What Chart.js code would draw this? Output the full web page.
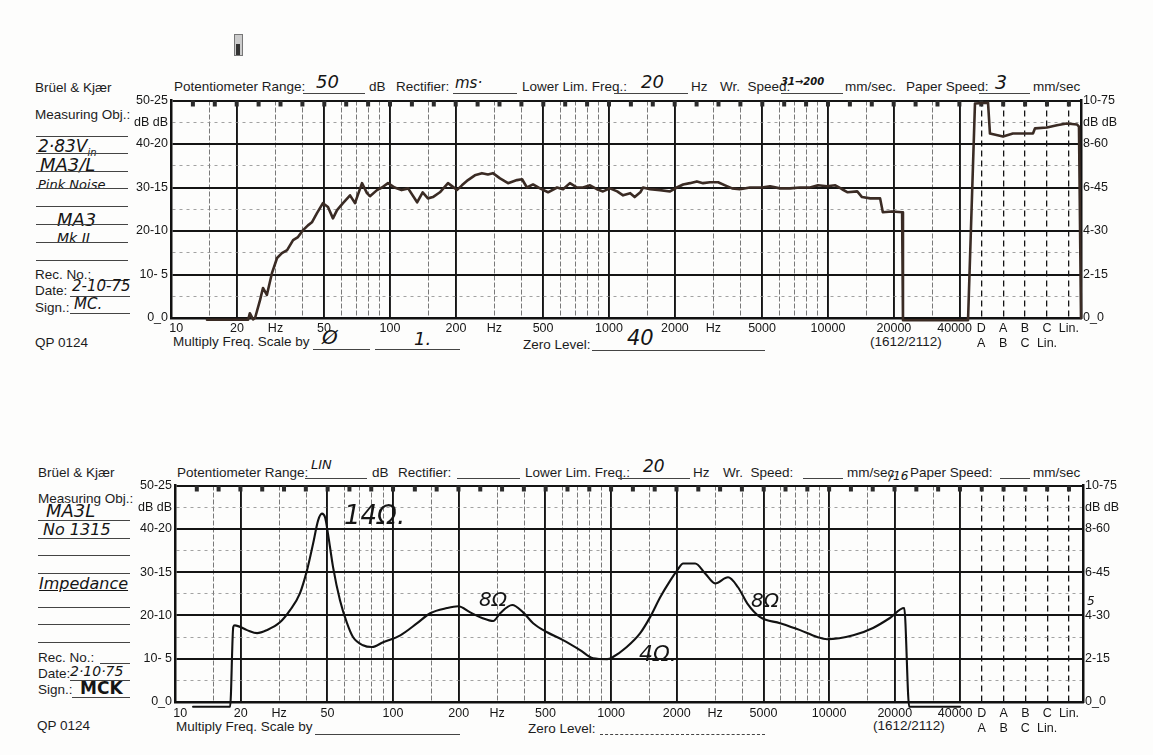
<!DOCTYPE html>
<html>
<head>
<meta charset="utf-8">
<script src="https://cdn.jsdelivr.net/npm/chart.js@4.4.0/dist/chart.umd.min.js"></script>
<style>
  body { margin: 0; background: #fff; }
  #page { position: relative; width: 1153px; height: 755px; overflow: hidden; background: #fdfdfc;
          font-family: "Liberation Sans", Arial, sans-serif; color: #1c1c1c; }
  .t { position: absolute; font-size: 13.5px; line-height: 14px; white-space: nowrap; }
  .h { position: absolute; font-family: "DejaVu Sans", sans-serif; font-style: italic; line-height: 1;
       white-space: nowrap; color: #151515; }
  .u { position: absolute; height: 0; border-top: 1px solid #444; }
  canvas { position: absolute; }
</style>
</head>
<body>
<div id="page">
  <!-- upper sheet: frequency response -->
  <div style="position:absolute;left:234px;top:34px;width:7px;height:20px;border:1px solid #777;background:#ccc"></div>
  <div style="position:absolute;left:236px;top:44px;width:4px;height:11px;background:#333"></div>

  <div class="t" style="left:35px;top:81px">Brüel &amp; Kjær</div>
  <div class="t" style="left:174px;top:80px">Potentiometer Range:</div>
  <div class="u" style="left:303px;top:93px;width:62px"></div>
  <div class="h" style="left:316px;top:73px;font-size:18px">50</div>
  <div class="t" style="left:369px;top:80px">dB</div>
  <div class="t" style="left:396px;top:80px">Rectifier:</div>
  <div class="h" style="left:455px;top:76px;font-size:15px">ms·</div>
  <div class="u" style="left:453px;top:93px;width:64px"></div>
  <div class="t" style="left:522px;top:80px">Lower Lim. Freq.:</div>
  <div class="u" style="left:614px;top:93px;width:74px"></div>
  <div class="h" style="left:641px;top:73px;font-size:18px">20</div>
  <div class="t" style="left:691px;top:80px">Hz</div>
  <div class="t" style="left:720px;top:80px">Wr.&nbsp; Speed:</div>
  <div class="u" style="left:781px;top:93px;width:62px"></div>
  <div class="h" style="left:781px;top:77px;font-size:10px;font-weight:bold">31→200</div>
  <div class="t" style="left:845px;top:80px">mm/sec.</div>
  <div class="t" style="left:906px;top:80px">Paper Speed:</div>
  <div class="u" style="left:979px;top:93px;width:51px"></div>
  <div class="h" style="left:995px;top:73px;font-size:19px">3</div>
  <div class="t" style="left:1033px;top:80px">mm/sec</div>

  <div class="t" style="left:35px;top:108px">Measuring Obj.:</div>
  <div class="u" style="left:36px;top:136px;width:92px"></div>
  <div class="h" style="left:38px;top:138px;font-size:17px">2·83V<sub style="font-size:10px">in</sub></div>
  <div class="u" style="left:36px;top:153px;width:92px"></div>
  <div class="h" style="left:40px;top:156px;font-size:18px">MA3/L</div>
  <div class="u" style="left:36px;top:171px;width:92px"></div>
  <div class="h" style="left:38px;top:178px;font-size:13px">Pink Noise</div>
  <div class="u" style="left:36px;top:188px;width:92px"></div>
  <div class="u" style="left:36px;top:206px;width:92px"></div>
  <div class="h" style="left:57px;top:211px;font-size:18px">MA3</div>
  <div class="u" style="left:36px;top:224px;width:92px"></div>
  <div class="h" style="left:57px;top:231px;font-size:14px">Mk II</div>
  <div class="u" style="left:36px;top:242px;width:92px"></div>
  <div class="u" style="left:36px;top:260px;width:92px"></div>
  <div class="t" style="left:35px;top:268px">Rec. No.:</div>
  <div class="u" style="left:100px;top:280px;width:28px"></div>
  <div class="t" style="left:35px;top:284px">Date:</div>
  <div class="h" style="left:72px;top:279px;font-size:15px">2-10-75</div>
  <div class="u" style="left:70px;top:296px;width:60px"></div>
  <div class="t" style="left:35px;top:301px">Sign.:</div>
  <div class="h" style="left:74px;top:297px;font-size:15px">MC.</div>
  <div class="u" style="left:70px;top:313px;width:60px"></div>
  <div class="t" style="left:35px;top:336px">QP 0124</div>

  <div class="t" style="left:173px;top:335px">Multiply Freq. Scale by</div>
  <div class="u" style="left:313px;top:349px;width:57px"></div>
  <div class="h" style="left:322px;top:327px;font-size:20px">Ø</div>
  <div class="u" style="left:375px;top:349px;width:85px"></div>
  <div class="h" style="left:414px;top:330px;font-size:18px">1.</div>
  <div class="t" style="left:523px;top:338px">Zero Level:</div>
  <div class="u" style="left:592px;top:350px;width:173px"></div>
  <div class="h" style="left:627px;top:328px;font-size:21px">40</div>
  <div class="t" style="left:870px;top:335px">(1612/2112)</div>

  <!-- lower sheet: impedance -->
  <div class="t" style="left:38px;top:466px">Brüel &amp; Kjær</div>
  <div class="t" style="left:177px;top:466px">Potentiometer Range:</div>
  <div class="h" style="left:311px;top:458px;font-size:13px">LIN</div>
  <div class="u" style="left:305px;top:478px;width:62px"></div>
  <div class="t" style="left:372px;top:466px">dB</div>
  <div class="t" style="left:398px;top:466px">Rectifier:</div>
  <div class="u" style="left:457px;top:478px;width:63px"></div>
  <div class="t" style="left:525px;top:466px">Lower Lim. Freq.:</div>
  <div class="u" style="left:618px;top:478px;width:72px"></div>
  <div class="h" style="left:643px;top:458px;font-size:17px">20</div>
  <div class="t" style="left:693px;top:466px">Hz</div>
  <div class="t" style="left:723px;top:466px">Wr.&nbsp; Speed:</div>
  <div class="u" style="left:803px;top:478px;width:40px"></div>
  <div class="t" style="left:847px;top:466px">mm/sec</div>
  <div class="h" style="left:889px;top:470px;font-size:12px">/16</div>
  <div class="t" style="left:910px;top:466px">Paper Speed:</div>
  <div class="u" style="left:1000px;top:478px;width:30px"></div>
  <div class="t" style="left:1033px;top:466px">mm/sec</div>

  <div class="t" style="left:38px;top:492px">Measuring Obj.:</div>
  <div class="h" style="left:46px;top:502px;font-size:18px">MA3L</div>
  <div class="u" style="left:38px;top:520px;width:92px"></div>
  <div class="h" style="left:43px;top:522px;font-size:16px">No 1315</div>
  <div class="u" style="left:38px;top:538px;width:92px"></div>
  <div class="u" style="left:38px;top:555px;width:92px"></div>
  <div class="u" style="left:38px;top:573px;width:92px"></div>
  <div class="h" style="left:39px;top:576px;font-size:16px;text-decoration:underline">Impedance</div>
  <div class="u" style="left:38px;top:607px;width:92px"></div>
  <div class="u" style="left:38px;top:624px;width:92px"></div>
  <div class="u" style="left:38px;top:642px;width:92px"></div>
  <div class="t" style="left:38px;top:651px">Rec. No.:</div>
  <div class="u" style="left:100px;top:663px;width:30px"></div>
  <div class="t" style="left:38px;top:667px">Date:</div>
  <div class="h" style="left:70px;top:664px;font-size:14px">2·10·75</div>
  <div class="u" style="left:70px;top:680px;width:60px"></div>
  <div class="t" style="left:38px;top:683px">Sign.:</div>
  <div class="h" style="left:80px;top:680px;font-size:17px;font-style:normal;font-weight:bold">MCK</div>
  <div class="u" style="left:72px;top:697px;width:58px"></div>
  <div class="t" style="left:37px;top:719px">QP 0124</div>

  <div class="t" style="left:176px;top:720px">Multiply Freq. Scale by</div>
  <div class="u" style="left:315px;top:734px;width:145px"></div>
  <div class="t" style="left:528px;top:722px">Zero Level:</div>
  <div class="u" style="left:600px;top:734px;width:165px;border-top-style:dashed"></div>
  <div class="t" style="left:873px;top:719px">(1612/2112)</div>

  <canvas id="respChart" width="1030" height="266" style="left:100px;top:90px"></canvas>
  <canvas id="impChart" width="1030" height="266" style="left:100px;top:475px"></canvas>

  <div class="h" style="left:344px;top:502px;font-size:26px">14Ω.</div>
  <div class="h" style="left:479px;top:589px;font-size:20px">8Ω</div>
  <div class="h" style="left:639px;top:643px;font-size:22px">4Ω.</div>
  <div class="h" style="left:751px;top:590px;font-size:20px">8Ω</div>
  <div class="h" style="left:1087px;top:595px;font-size:12px">5</div>
</div>

<script>
// grid lines of the recorder paper (Hz) and their printed labels
const xTickHz = [10, 15, 20, 30, 40, 50, 60, 70, 80, 90,
                 100, 150, 200, 300, 400, 500, 600, 700, 800, 900,
                 1000, 1500, 2000, 3000, 4000, 5000, 6000, 7000, 8000, 9000,
                 10000, 15000, 20000, 30000, 40000,
                 50100, 63100, 79400, 100000, 125900];
const xTickText = ['   10', '', '20', 'Hz', '', '50', '', '', '', '',
                   '100', '', '200', 'Hz', '', '500', '', '', '', '',
                   '1000', '', '2000', 'Hz', '', '5000', '', '', '', '',
                   '10000', '', '20000', '', '40000   ',
                   ['D', 'A'], ['A', 'B'], ['B', 'C'], ['C', 'Lin.'], 'Lin.'];
const majorHz = [10, 20, 50, 100, 200, 500, 1000, 2000, 5000, 10000, 20000, 40000];
const weightHz = [50100, 63100, 79400, 100000, 125900];

const yTickDb = [0, 2.5, 5, 7.5, 10, 12.5, 15, 17.5, 20, 22.5, 25, 27.5, 30,
                 32.5, 35, 37.5, 40, 42.5, 45, 47.5, 50];
const yMajorDb = [0, 10, 20, 30, 40, 50];
const yLeftText = ['0_0', '10- 5', '20-10', '30-15', '40-20', '50-25'];
const yRightText = ['0_0', '2-15', '4-30', '6-45', '8-60', '10-75'];
const unitDb = 45;

// pen trace, upper sheet (pink noise response)
const respHz = [14.6, 22.5, 22.9, 23.7, 24.2, 25.5, 26.3, 27.4, 28.9, 30.5,
                32.1, 33.9, 36.1, 38.0, 40.1, 42.2, 44.0, 46.4, 49.4, 52.1,
                54.9, 57.3, 61.0, 65.7, 69.2, 74.5, 78.5, 81.0, 87.2, 91.9,
                97.9, 105, 113, 121, 133, 141, 149, 157, 169, 184,
                198, 202, 213, 227, 244, 263, 280, 295, 318, 346,
                380, 401, 422, 450, 484, 527, 579, 617, 663, 714,
                761, 819, 881, 939, 1010, 1090, 1160, 1250, 1310, 1390,
                1430, 1540, 1710, 1900, 2040, 2180, 2340, 2520, 2690, 2890,
                3150, 3390, 3650, 3960, 4400, 4990, 5440, 6040, 6710, 7450,
                8280, 9000, 9890, 10800, 11600, 12300, 13600, 14300, 15600, 17300,
                17800, 19600, 21800, 22000, 43600, 46900, 53800, 54900, 63000, 69900,
                77700, 86300, 88200, 100000, 111000, 123000, 137000, 140000, 143000];
const respDb = [-0.4, -0.4, 1.1, -0.3, 0, 4.1, 6.9, 5.3, 10.3, 13.8,
                14.9, 15.6, 17.9, 18.6, 20.2, 21.3, 22.0, 24.1, 26.4, 25.5,
                22.9, 24.8, 26.4, 28.2, 26.4, 31.0, 28.7, 28.0, 29.4, 30.0,
                31.0, 30.0, 29.4, 29.8, 26.6, 28.9, 27.5, 27.8, 28.9, 31.0,
                29.8, 29.4, 30.5, 31.7, 32.8, 33.3, 33.0, 33.3, 32.1, 31.0,
                31.7, 31.9, 30.0, 30.7, 29.8, 28.9, 30.0, 29.6, 31.0, 30.0,
                30.0, 30.5, 29.6, 29.1, 29.8, 29.1, 28.2, 28.7, 27.8, 28.9,
                30.0, 29.6, 29.4, 29.1, 30.0, 30.7, 31.0, 31.4, 31.0, 31.2,
                31.2, 30.5, 29.8, 29.6, 30.0, 30.0, 30.3, 29.8, 29.8, 30.0,
                30.0, 30.5, 30.3, 30.5, 29.6, 28.9, 29.1, 27.8, 27.5, 27.5,
                24.3, 24.5, 24.3, -0.5, -0.5, 49.3, 49.5, 42.4, 41.7, 42.4,
                42.4, 42.4, 43.6, 43.8, 44.3, 44.7, 44.5, 44.0, 0];

// pen trace, lower sheet (impedance)
const impHz = [12.1, 17.9, 18.5, 18.8, 21.4, 23.8, 26.4, 30.3, 33.7, 37.4,
               40.3, 43.0, 45.3, 47.2, 48.8, 50.3, 53.1, 57.1, 61.5, 65.5,
               72.8, 80.1, 90.0, 108, 129, 148, 177, 199, 226, 256,
               288, 310, 352, 395, 439, 509, 602, 721, 827, 959,
               1020, 1180, 1360, 1510, 1680, 1870, 2010, 2140, 2430, 2700,
               3000, 3440, 3820, 4210, 4830, 5960, 7360, 8810, 9790, 12900,
               15900, 19000, 22100, 23300, 39900];
const impDb = [-1.1, -1.1, 17.3, 17.7, 16.6, 15.9, 16.6, 18.4, 21.2, 25.1,
               30.4, 36.6, 41.9, 43.5, 42.6, 38.9, 31.1, 23.5, 18.2, 15.0,
               13.1, 12.7, 13.8, 15.4, 18.2, 20.5, 21.7, 22.1, 20.7, 19.4,
               18.7, 20.5, 22.4, 20.7, 18.2, 16.1, 14.3, 12.0, 10.1, 9.9,
               10.4, 12.7, 15.9, 19.6, 24.2, 28.1, 30.4, 32.0, 32.0, 29.7,
               27.4, 28.8, 26.5, 22.8, 19.6, 18.2, 16.6, 15.0, 14.5, 15.4,
               17.1, 19.4, 21.7, -1.1, -1.1];

const ink = '#161616';
const tickFont = { family: 'Liberation Sans, Arial, sans-serif', size: 12.5 };

// small pen-position marks hanging from the top edge, every tenth of a decade
const penMarks = {
    id: 'penMarks',
    beforeDatasetsDraw(chart) {
        const { ctx, chartArea, scales } = chart;
        ctx.save();
        ctx.fillStyle = '#2b2b2b';
        for (let k = 11; k <= 51; k++) {
            const px = scales.x.getPixelForValue(Math.pow(10, k / 10));
            ctx.fillRect(px - 2, chartArea.top, 4, 6);
        }
        ctx.restore();
    }
};

function xStyle(v) {
    if (majorHz.includes(v)) return 'major';
    if (weightHz.includes(v)) return 'weight';
    return 'minor';
}

function dibujarHoja(id, hz, db, cfg) {
    const puntos = hz.map((f, i) => ({ x: f, y: db[i] }));
    return new Chart(document.getElementById(id), {
        type: 'line',
        data: {
            datasets: [{
                data: puntos,
                borderColor: cfg.color,
                borderWidth: cfg.width,
                pointRadius: 0,
                tension: cfg.smooth ? 0.4 : 0,
                cubicInterpolationMode: cfg.smooth ? 'monotone' : 'default',
                borderJoinStyle: 'round',
                borderCapStyle: 'round',
                clip: { left: 4, right: 4, top: 4, bottom: 10 }
            }]
        },
        options: {
            responsive: false,
            animation: false,
            layout: { padding: { top: 10, left: 0, right: 0, bottom: 0 } },
            plugins: { legend: { display: false }, tooltip: { enabled: false } },
            scales: {
                x: {
                    type: 'logarithmic',
                    min: 10,
                    max: cfg.maxHz,
                    afterBuildTicks: s => { s.ticks = xTickHz.map(v => ({ value: v })); },
                    afterFit: s => { s.height = cfg.xh; },
                    ticks: {
                        autoSkip: false, maxRotation: 0, minRotation: 0, padding: cfg.xpad,
                        color: ink, font: tickFont,
                        callback: (v, i) => xTickText[i]
                    },
                    grid: {
                        drawTicks: false,
                        color: c => {
                            const s = c.tick ? xStyle(c.tick.value) : 'major';
                            return s === 'minor' ? '#6a6a6a' : '#141414';
                        },
                        lineWidth: c => {
                            const s = c.tick ? xStyle(c.tick.value) : 'major';
                            return s === 'major' ? 1.9 : (s === 'weight' ? 1.3 : 0.9);
                        }
                    },
                    border: {
                        display: true, width: 2.5, color: '#111',
                        dash: c => {
                            if (!c.tick) return [];
                            const s = xStyle(c.tick.value);
                            return s === 'major' ? [] : (s === 'weight' ? [6, 4] : [5, 2]);
                        }
                    }
                },
                y: {
                    position: 'left',
                    min: 0, max: 50,
                    afterBuildTicks: s => { s.ticks = yTickDb.map(v => ({ value: v })); },
                    afterFit: s => { s.width = cfg.lw; },
                    ticks: {
                        padding: 3, color: ink, font: tickFont,
                        callback: v => {
                            const k = yMajorDb.indexOf(v);
                            if (k >= 0) return yLeftText[k];
                            return v === unitDb ? 'dB dB' : '';
                        }
                    },
                    grid: {
                        drawTicks: false,
                        color: c => (c.tick && yMajorDb.includes(c.tick.value)) ? '#141414' : '#8a8a8a',
                        lineWidth: c => (c.tick && yMajorDb.includes(c.tick.value)) ? 1.9 : 0.8
                    },
                    border: {
                        display: true, width: 2.5, color: '#111',
                        dash: c => (c.tick && !yMajorDb.includes(c.tick.value)) ? [3, 4] : []
                    }
                },
                y2: {
                    position: 'right',
                    min: 0, max: 50,
                    afterBuildTicks: s => { s.ticks = yTickDb.map(v => ({ value: v })); },
                    afterFit: s => { s.width = cfg.rw; },
                    ticks: {
                        padding: 2, color: ink, font: tickFont,
                        callback: v => {
                            const k = yMajorDb.indexOf(v);
                            if (k >= 0) return yRightText[k];
                            return v === unitDb ? 'dB dB' : '';
                        }
                    },
                    grid: { drawOnChartArea: false, drawTicks: false },
                    border: { display: true, width: 2.5, color: '#111' }
                }
            }
        },
        plugins: [penMarks]
    });
}

dibujarHoja('respChart', respHz, respDb,
    { color: '#3a2b24', width: 2.6, smooth: false, maxHz: 143000, xh: 38, lw: 71, rw: 49, xpad: 3 });
dibujarHoja('impChart', impHz, impDb,
    { color: '#121212', width: 2.1, smooth: true, maxHz: 146000, xh: 39, lw: 75, rw: 47, xpad: 4 });
</script>
</body>
</html>
